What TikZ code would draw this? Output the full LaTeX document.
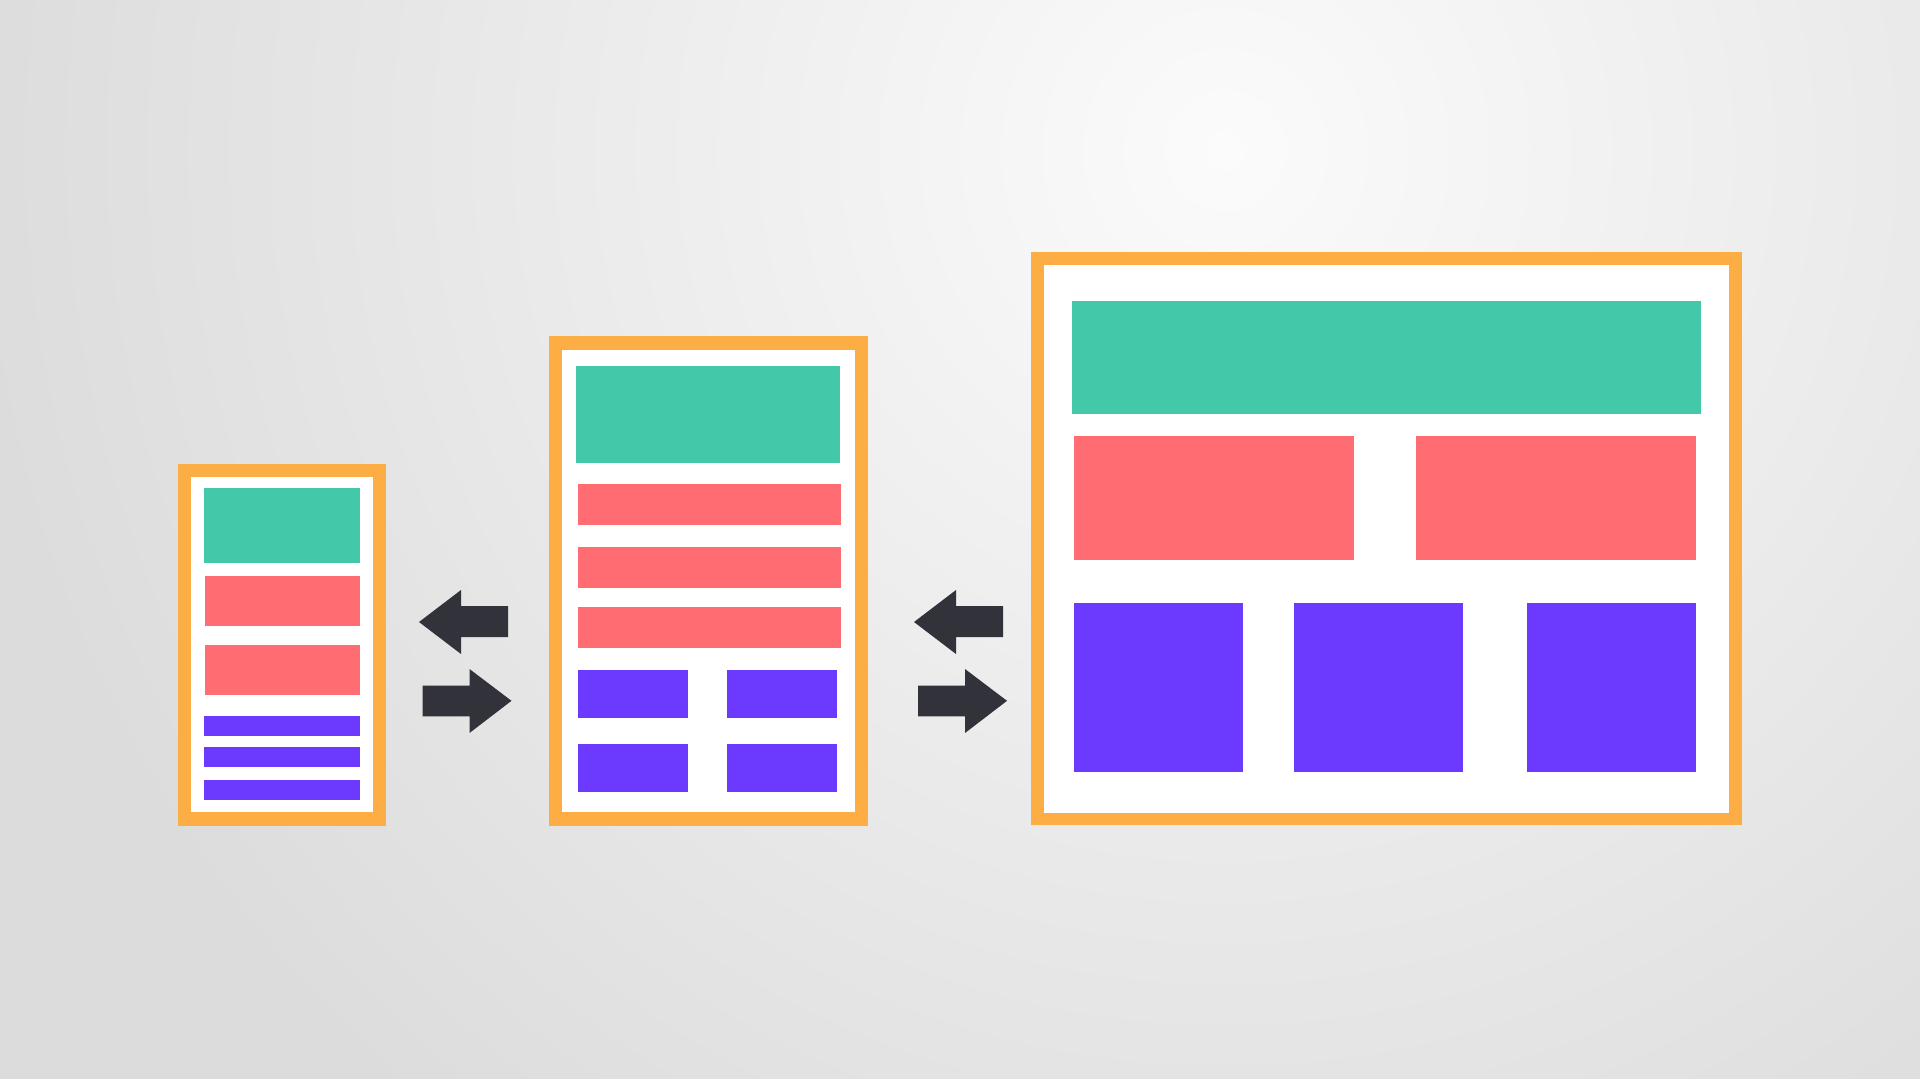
\documentclass[tikz,border=0pt]{standalone}
\definecolor{bgIn}{HTML}{FBFBFB}
\definecolor{bgOut}{HTML}{DCDCDC}
\definecolor{frameOrange}{HTML}{FCAE45}
\definecolor{headGreen}{HTML}{44C8AA}
\definecolor{rowRed}{HTML}{FF6D72}
\definecolor{tilePurple}{HTML}{6C3AFF}
\definecolor{arrowDark}{HTML}{31323A}
% glow fades out at 3/5 of the shaded circle's radius
\pgfdeclareradialshading{glow}{\pgfpoint{0bp}{0bp}}{color(0bp)=(bgIn); color(15bp)=(bgOut); color(50bp)=(bgOut)}
\tikzset{
  frame/.style={fill=frameOrange},
  page/.style={fill=white},
  header/.style={fill=headGreen},
  row/.style={fill=rowRed},
  tile/.style={fill=tilePurple},
  flip/.style={fill=arrowDark}
}
% one filled box from its top-left to its bottom-right corner (pixel units)
\newcommand\blk[5]{\fill[#1] (#2,#3) rectangle (#4,#5);}
\begin{document}
\begin{tikzpicture}[x=0.01cm,y=-0.01cm]
\useasboundingbox (0,0) rectangle (1920,1078);
% backdrop with a soft glow near the top
\begin{scope}
  \clip (0,0) rectangle (1920,1078);
  \fill[bgOut] (0,0) rectangle (1920,1078);
  \shade[shading=glow] (1225,150) circle[radius=21cm];
\end{scope}

% ---- phone layout ----
\blk{frame}{178}{464}{386}{825.5}
\blk{page}{191.3}{476.7}{373}{812.3}
\blk{header}{203.7}{488}{359.7}{563}
\blk{row}{204.7}{575.7}{359.7}{626}
\blk{row}{204.7}{645.3}{359.7}{695.3}
\blk{tile}{203.7}{715.7}{359.7}{736}
\blk{tile}{203.7}{746.7}{359.7}{767.3}
\blk{tile}{203.7}{780}{359.7}{800.3}

% ---- tablet layout ----
\blk{frame}{548.7}{336}{868}{825.5}
\blk{page}{561.7}{349.5}{855}{812.3}
\blk{header}{576.3}{366.3}{840.3}{463.3}
\blk{row}{577.7}{484}{841.3}{525.3}
\blk{row}{577.7}{547}{841.3}{588.3}
\blk{row}{577.7}{606.7}{841.3}{648.3}
\blk{tile}{577.7}{670}{687.7}{718}
\blk{tile}{727}{670}{837}{718}
\blk{tile}{577.7}{743.7}{687.7}{791.7}
\blk{tile}{727}{743.7}{837}{791.7}

% ---- desktop layout ----
\blk{frame}{1031}{251.5}{1741.7}{825.3}
\blk{page}{1043.7}{264.7}{1728.7}{812.6}
\blk{header}{1072}{301}{1700.5}{414}
\blk{row}{1074}{436}{1354}{559.6}
\blk{row}{1415.5}{436}{1696}{559.6}
\blk{tile}{1074}{603}{1243}{772}
\blk{tile}{1294}{603}{1463}{772}
\blk{tile}{1527.3}{603}{1696}{772}

% ---- arrows between layouts ----
\fill[flip] (419,622) -- (461,590) -- (461,606) -- (508,606) -- (508,637)
  -- (461,637) -- (461,654) -- cycle;
\fill[flip] (422.7,685.5) -- (469.5,685.5) -- (469.5,669) -- (511.5,700.8)
  -- (469.5,733) -- (469.5,716.3) -- (422.7,716.3) -- cycle;
\fill[flip] (914,622) -- (956,590) -- (956,606) -- (1003,606) -- (1003,637)
  -- (956,637) -- (956,654) -- cycle;
\fill[flip] (918,685.5) -- (965,685.5) -- (965,669) -- (1007,700.8)
  -- (965,733) -- (965,716.3) -- (918,716.3) -- cycle;
\end{tikzpicture}
\end{document}
